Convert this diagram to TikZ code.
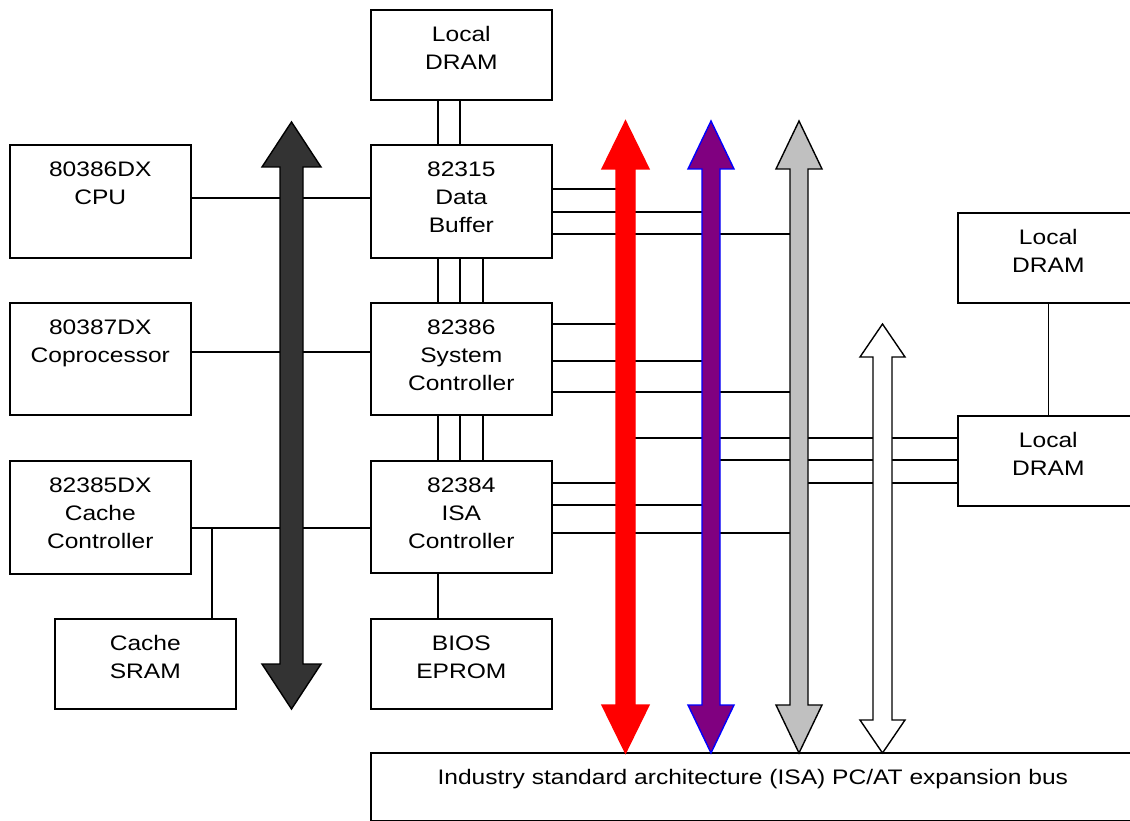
\documentclass[tikz,border=0pt]{standalone}
\usepackage{fontspec}
\setmainfont{Liberation Sans}[FakeStretch=1.17]
\definecolor{darkbus}{HTML}{333333}
\definecolor{purplebus}{HTML}{800080}
\definecolor{greybus}{HTML}{C0C0C0}
\newcommand\busarrow[7]{%
 \draw[#1] (#2,#3) -- ({#2+#6},{#3+#7}) -- ({#2+#5},{#3+#7}) -- ({#2+#5},{#4-#7}) -- ({#2+#6},{#4-#7}) -- (#2,#4) -- ({#2-#6},{#4-#7}) -- ({#2-#5},{#4-#7}) -- ({#2-#5},{#3+#7}) -- ({#2-#6},{#3+#7}) -- cycle;}
\begin{document}
\begin{tikzpicture}[x=1pt,y=-1pt,
  box/.style={draw, line width=1.6pt, fill=white, rectangle, anchor=north west, inner sep=0pt},
  txt/.style={font=\fontsize{21}{28}\selectfont, align=center, inner sep=0pt, anchor=north, yshift=-17.5pt},
  wire/.style={line width=1.3pt},
  busline/.style={line width=1.4pt, line join=miter}]
\useasboundingbox (0,0) rectangle (1130,821);
% boxes
\node[box, minimum width=181pt, minimum height=90pt, label={[txt]north:Local\\DRAM}] (dramA) at (370,9) {};
\node[box, minimum width=181pt, minimum height=113pt, label={[txt]north:82315\\Data\\Buffer}] (db) at (370,144) {};
\node[box, minimum width=181pt, minimum height=112pt, label={[txt]north:82386\\System\\Controller}] (sc) at (370,302) {};
\node[box, minimum width=181pt, minimum height=112pt, label={[txt]north:82384\\ISA\\Controller}] (isa) at (370,460) {};
\node[box, minimum width=181pt, minimum height=90pt, label={[txt]north:BIOS\\EPROM}] (bios) at (370,618) {};
\node[box, minimum width=181pt, minimum height=113pt, label={[txt]north:80386DX\\CPU}] (cpu) at (9,144) {};
\node[box, minimum width=181pt, minimum height=112pt, label={[txt]north:80387DX\\Coprocessor}] (cop) at (9,302) {};
\node[box, minimum width=181pt, minimum height=113pt, label={[txt]north:82385DX\\Cache\\Controller}] (cc) at (9,460) {};
\node[box, minimum width=181pt, minimum height=90pt, label={[txt]north:Cache\\SRAM}] (sram) at (54,618) {};
\node[box, minimum width=181pt, minimum height=90pt, label={[txt]north:Local\\DRAM}] (dramB) at (957,212) {};
\node[box, minimum width=181pt, minimum height=90pt, label={[txt]north:Local\\DRAM}] (dramC) at (957,415) {};
\node[box, minimum width=764pt, minimum height=68pt, label={[txt]north:Industry standard architecture (ISA) PC/AT expansion bus}] (isabus) at (370,752) {};
% bus positions
\coordinate (busK) at (291.5,0);
\coordinate (busR) at (625.5,0);
\coordinate (busP) at (711,0);
\coordinate (busG) at (799,0);
\coordinate (tap) at (212,528);
% wires
\draw[wire] (cpu.east |- 0,198) -- (db.west |- 0,198);
\draw[wire] (cop.east |- 0,352) -- (sc.west |- 0,352);
\draw[wire] (cc.east |- 0,528) -- (isa.west |- 0,528);
\draw[wire] (tap) -- (tap |- sram.north);
\foreach \x in {438,460} \draw[wire] (dramA.south -| \x,0) -- (db.north -| \x,0);
\foreach \x in {438,460,483} \draw[wire] (db.south -| \x,0) -- (sc.north -| \x,0);
\foreach \x in {438,460,483} \draw[wire] (sc.south -| \x,0) -- (isa.north -| \x,0);
\draw[wire] (isa.south -| 438,0) -- (bios.north -| 438,0);
\draw[wire] (dramB.south) -- (dramC.north);
\draw[wire] (db.east |- 0,189) -- (busR |- 0,189);
\draw[wire] (db.east |- 0,212) -- (busP |- 0,212);
\draw[wire] (db.east |- 0,234) -- (busG |- 0,234);
\draw[wire] (sc.east |- 0,324) -- (busR |- 0,324);
\draw[wire] (sc.east |- 0,361) -- (busP |- 0,361);
\draw[wire] (sc.east |- 0,392) -- (busG |- 0,392);
\draw[wire] (isa.east |- 0,483) -- (busR |- 0,483);
\draw[wire] (isa.east |- 0,505) -- (busP |- 0,505);
\draw[wire] (isa.east |- 0,533) -- (busG |- 0,533);
\draw[wire] (busR |- 0,438) -- (dramC.west |- 0,438);
\draw[wire] (busP |- 0,460) -- (dramC.west |- 0,460);
\draw[wire] (busG |- 0,483) -- (dramC.west |- 0,483);
% buses
\busarrow{busline, draw=black, fill=darkbus}{291.5}{122}{709}{11.5}{29.5}{45}
\busarrow{busline, draw=red, fill=red}{625.5}{121}{753}{9.5}{23.5}{48}
\busarrow{busline, draw=blue, fill=purplebus}{711}{121}{753}{9}{23}{48}
\busarrow{busline, draw=black, fill=greybus}{799}{121}{753}{9}{23}{48}
\busarrow{busline, draw=black, fill=white}{882.5}{324}{753}{9.5}{22.5}{33}
\end{tikzpicture}
\end{document}
